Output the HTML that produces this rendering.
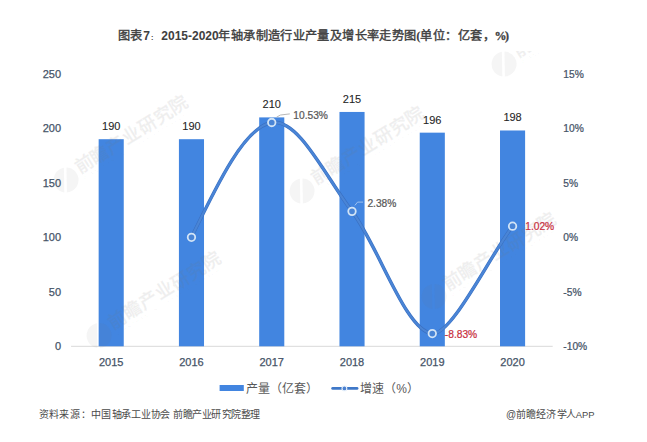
<!DOCTYPE html>
<html lang="zh-CN"><head><meta charset="utf-8"><style>
html,body{margin:0;padding:0;background:#fff;width:647px;height:442px;overflow:hidden;position:relative;font-family:"Liberation Sans", sans-serif;}
</style></head><body>
<svg width="647" height="442" viewBox="0 0 647 442" style="position:absolute;left:0;top:0">
<line x1="71.06" y1="346.30" x2="552.70" y2="346.30" stroke="#D9D9D9" stroke-width="1"/>
<text x="61.10" y="350.40" font-family='"Liberation Sans", sans-serif' font-size="11" fill="#455367" stroke="#455367" stroke-width="0.25" text-anchor="end" font-weight="normal">0</text>
<text x="61.10" y="295.90" font-family='"Liberation Sans", sans-serif' font-size="11" fill="#455367" stroke="#455367" stroke-width="0.25" text-anchor="end" font-weight="normal">50</text>
<text x="61.10" y="241.40" font-family='"Liberation Sans", sans-serif' font-size="11" fill="#455367" stroke="#455367" stroke-width="0.25" text-anchor="end" font-weight="normal">100</text>
<text x="61.10" y="186.90" font-family='"Liberation Sans", sans-serif' font-size="11" fill="#455367" stroke="#455367" stroke-width="0.25" text-anchor="end" font-weight="normal">150</text>
<text x="61.10" y="132.40" font-family='"Liberation Sans", sans-serif' font-size="11" fill="#455367" stroke="#455367" stroke-width="0.25" text-anchor="end" font-weight="normal">200</text>
<text x="61.10" y="77.90" font-family='"Liberation Sans", sans-serif' font-size="11" fill="#455367" stroke="#455367" stroke-width="0.25" text-anchor="end" font-weight="normal">250</text>
<g transform="translate(563.30,77.50) scale(0.93,1)"><text x="0" y="0" font-family='"Liberation Sans", sans-serif' font-size="11" fill="#455367" stroke="#455367" stroke-width="0.25" text-anchor="start" font-weight="normal">15%</text></g>
<g transform="translate(563.30,132.00) scale(0.93,1)"><text x="0" y="0" font-family='"Liberation Sans", sans-serif' font-size="11" fill="#455367" stroke="#455367" stroke-width="0.25" text-anchor="start" font-weight="normal">10%</text></g>
<g transform="translate(563.30,186.50) scale(0.93,1)"><text x="0" y="0" font-family='"Liberation Sans", sans-serif' font-size="11" fill="#455367" stroke="#455367" stroke-width="0.25" text-anchor="start" font-weight="normal">5%</text></g>
<g transform="translate(563.30,241.00) scale(0.93,1)"><text x="0" y="0" font-family='"Liberation Sans", sans-serif' font-size="11" fill="#455367" stroke="#455367" stroke-width="0.25" text-anchor="start" font-weight="normal">0%</text></g>
<g transform="translate(563.30,295.50) scale(0.93,1)"><text x="0" y="0" font-family='"Liberation Sans", sans-serif' font-size="11" fill="#455367" stroke="#455367" stroke-width="0.25" text-anchor="start" font-weight="normal">-5%</text></g>
<g transform="translate(563.30,350.00) scale(0.93,1)"><text x="0" y="0" font-family='"Liberation Sans", sans-serif' font-size="11" fill="#455367" stroke="#455367" stroke-width="0.25" text-anchor="start" font-weight="normal">-10%</text></g>
<rect x="98.65" y="139.20" width="25.1" height="207.10" fill="#4285E0"/>
<text x="111.20" y="130.20" font-family='"Liberation Sans", sans-serif' font-size="11" fill="#262626" stroke="#262626" stroke-width="0.1" text-anchor="middle" font-weight="normal">190</text>
<text x="111.20" y="366.00" font-family='"Liberation Sans", sans-serif' font-size="11" fill="#455367" stroke="#455367" stroke-width="0.25" text-anchor="middle" font-weight="normal">2015</text>
<rect x="178.92" y="139.20" width="25.1" height="207.10" fill="#4285E0"/>
<text x="191.47" y="130.20" font-family='"Liberation Sans", sans-serif' font-size="11" fill="#262626" stroke="#262626" stroke-width="0.1" text-anchor="middle" font-weight="normal">190</text>
<text x="191.47" y="366.00" font-family='"Liberation Sans", sans-serif' font-size="11" fill="#455367" stroke="#455367" stroke-width="0.25" text-anchor="middle" font-weight="normal">2016</text>
<rect x="259.19" y="117.40" width="25.1" height="228.90" fill="#4285E0"/>
<text x="271.74" y="108.40" font-family='"Liberation Sans", sans-serif' font-size="11" fill="#262626" stroke="#262626" stroke-width="0.1" text-anchor="middle" font-weight="normal">210</text>
<text x="271.74" y="366.00" font-family='"Liberation Sans", sans-serif' font-size="11" fill="#455367" stroke="#455367" stroke-width="0.25" text-anchor="middle" font-weight="normal">2017</text>
<rect x="339.47" y="111.95" width="25.1" height="234.35" fill="#4285E0"/>
<text x="352.02" y="102.95" font-family='"Liberation Sans", sans-serif' font-size="11" fill="#262626" stroke="#262626" stroke-width="0.1" text-anchor="middle" font-weight="normal">215</text>
<text x="352.02" y="366.00" font-family='"Liberation Sans", sans-serif' font-size="11" fill="#455367" stroke="#455367" stroke-width="0.25" text-anchor="middle" font-weight="normal">2018</text>
<rect x="419.74" y="132.66" width="25.1" height="213.64" fill="#4285E0"/>
<text x="432.29" y="123.66" font-family='"Liberation Sans", sans-serif' font-size="11" fill="#262626" stroke="#262626" stroke-width="0.1" text-anchor="middle" font-weight="normal">196</text>
<text x="432.29" y="366.00" font-family='"Liberation Sans", sans-serif' font-size="11" fill="#455367" stroke="#455367" stroke-width="0.25" text-anchor="middle" font-weight="normal">2019</text>
<rect x="500.01" y="130.48" width="25.1" height="215.82" fill="#4285E0"/>
<text x="512.56" y="121.48" font-family='"Liberation Sans", sans-serif' font-size="11" fill="#262626" stroke="#262626" stroke-width="0.1" text-anchor="middle" font-weight="normal">198</text>
<text x="512.56" y="366.00" font-family='"Liberation Sans", sans-serif' font-size="11" fill="#455367" stroke="#455367" stroke-width="0.25" text-anchor="middle" font-weight="normal">2020</text>
<defs><clipPath id="wc"><rect x="0" y="51" width="647" height="300"/></clipPath><mask id="lm" maskUnits="userSpaceOnUse" x="-40" y="-30" width="60" height="60"><rect x="-40" y="-30" width="60" height="60" fill="#fff"/><line x1="-4" y1="-18" x2="-22" y2="12" stroke="#000" stroke-width="2.6"/></mask></defs>
<g clip-path="url(#wc)">
<g transform="translate(78,175.5) rotate(-32)"><circle cx="-12.5" cy="-2.5" r="12.5" fill="rgba(120,120,120,0.07)" mask="url(#lm)"/><text x="2" y="0" font-family='"Liberation Sans", sans-serif' font-size="18" letter-spacing="0.6" fill="rgba(120,120,120,0.07)" stroke="rgba(120,120,120,0.07)" stroke-width="1.3">前瞻产业研究院</text><text x="3" y="7" font-family='"Liberation Sans", sans-serif' font-size="4" letter-spacing="2.2" fill="rgba(120,120,120,0.07)">QIANZHAN INDUSTRY RESEARCH</text></g>
<g transform="translate(111,331) rotate(-32)"><circle cx="-12.5" cy="-2.5" r="12.5" fill="rgba(120,120,120,0.07)" mask="url(#lm)"/><text x="2" y="0" font-family='"Liberation Sans", sans-serif' font-size="18" letter-spacing="0.6" fill="rgba(120,120,120,0.07)" stroke="rgba(120,120,120,0.07)" stroke-width="1.3">前瞻产业研究院</text><text x="3" y="7" font-family='"Liberation Sans", sans-serif' font-size="4" letter-spacing="2.2" fill="rgba(120,120,120,0.07)">QIANZHAN INDUSTRY RESEARCH</text></g>
<g transform="translate(314,186.5) rotate(-32)"><circle cx="-12.5" cy="-2.5" r="12.5" fill="rgba(120,120,120,0.07)" mask="url(#lm)"/><text x="2" y="0" font-family='"Liberation Sans", sans-serif' font-size="18" letter-spacing="0.6" fill="rgba(120,120,120,0.07)" stroke="rgba(120,120,120,0.07)" stroke-width="1.3">前瞻产业研究院</text><text x="3" y="7" font-family='"Liberation Sans", sans-serif' font-size="4" letter-spacing="2.2" fill="rgba(120,120,120,0.07)">QIANZHAN INDUSTRY RESEARCH</text></g>
<g transform="translate(446,292) rotate(-32)"><circle cx="-12.5" cy="-2.5" r="12.5" fill="rgba(120,120,120,0.07)" mask="url(#lm)"/><text x="2" y="0" font-family='"Liberation Sans", sans-serif' font-size="18" letter-spacing="0.6" fill="rgba(120,120,120,0.07)" stroke="rgba(120,120,120,0.07)" stroke-width="1.3">前瞻产业研究院</text><text x="3" y="7" font-family='"Liberation Sans", sans-serif' font-size="4" letter-spacing="2.2" fill="rgba(120,120,120,0.07)">QIANZHAN INDUSTRY RESEARCH</text></g>
<g transform="translate(516,59.5) rotate(-32)"><circle cx="-12.5" cy="-2.5" r="12.5" fill="rgba(120,120,120,0.07)" mask="url(#lm)"/><text x="2" y="0" font-family='"Liberation Sans", sans-serif' font-size="18" letter-spacing="0.6" fill="rgba(120,120,120,0.07)" stroke="rgba(120,120,120,0.07)" stroke-width="1.3">前瞻产业研究院</text><text x="3" y="7" font-family='"Liberation Sans", sans-serif' font-size="4" letter-spacing="2.2" fill="rgba(120,120,120,0.07)">QIANZHAN INDUSTRY RESEARCH</text></g>
</g>
<path d="M191.47,237.30 C218.23,182.07 244.99,126.85 271.74,122.52 C298.50,118.20 325.26,176.19 352.02,211.36 C378.77,246.53 405.53,331.08 432.29,333.55 C451.56,335.33 488.48,258.39 512.56,226.18" fill="none" stroke="#3A70C2" stroke-width="3.4" stroke-linecap="round"/>
<path d="M191.47,237.30 C218.23,182.07 244.99,126.85 271.74,122.52 C298.50,118.20 325.26,176.19 352.02,211.36 C378.77,246.53 405.53,331.08 432.29,333.55 C451.56,335.33 488.48,258.39 512.56,226.18" fill="none" stroke="#4A85D6" stroke-width="2.2" stroke-linecap="round"/>
<circle cx="191.47" cy="237.30" r="3.75" fill="#4A85D6" stroke="#D2E4F6" stroke-width="1.8"/>
<circle cx="271.74" cy="122.52" r="3.75" fill="#4A85D6" stroke="#D2E4F6" stroke-width="1.8"/>
<circle cx="352.02" cy="211.36" r="3.75" fill="#4A85D6" stroke="#D2E4F6" stroke-width="1.8"/>
<circle cx="432.29" cy="333.55" r="3.75" fill="#4A85D6" stroke="#D2E4F6" stroke-width="1.8"/>
<circle cx="512.56" cy="226.18" r="3.75" fill="#4A85D6" stroke="#D2E4F6" stroke-width="1.8"/>
<polyline points="276.5,117.2 280.5,115.0 289.8,113.9" fill="none" stroke="#B0B0B0" stroke-width="0.9"/>
<g transform="translate(293.30,119.00) scale(0.93,1)"><text x="0" y="0" font-family='"Liberation Sans", sans-serif' font-size="11" fill="#595959" stroke="#595959" stroke-width="0.25" text-anchor="start" font-weight="normal">10.53%</text></g>
<polyline points="354.9,205.4 357.6,202.1 363.1,202.1" fill="none" stroke="#A8C8F0" stroke-width="0.9"/>
<g transform="translate(367.40,206.70) scale(0.93,1)"><text x="0" y="0" font-family='"Liberation Sans", sans-serif' font-size="11" fill="#595959" stroke="#595959" stroke-width="0.25" text-anchor="start" font-weight="normal">2.38%</text></g>
<g transform="translate(525.20,230.00) scale(0.93,1)"><text x="0" y="0" font-family='"Liberation Sans", sans-serif' font-size="11" fill="#C8303F" stroke="#C8303F" stroke-width="0.25" text-anchor="start" font-weight="normal">1.02%</text></g>
<g transform="translate(444.80,337.70) scale(0.93,1)"><text x="0" y="0" font-family='"Liberation Sans", sans-serif' font-size="11" fill="#C8303F" stroke="#C8303F" stroke-width="0.25" text-anchor="start" font-weight="normal">-8.83%</text></g>
<rect x="219.6" y="385" width="24.2" height="6" fill="#4285E0"/>
<line x1="332.7" y1="388.4" x2="357" y2="388.4" stroke="#3F78C8" stroke-width="2.9" stroke-linecap="round"/>
<circle cx="344.4" cy="388.4" r="2.4" fill="#4A80D0" stroke="#E8F1FB" stroke-width="1.1"/>
<text x="245.5" y="392.6" font-family='"Liberation Sans", sans-serif' font-size="12" fill="#595959">产量（亿套）</text>
<text x="360.2" y="392.5" font-family='"Liberation Sans", sans-serif' font-size="12" fill="#595959">增速（%）</text>
<text x="117.5 129.6" y="39.8" font-family='"Liberation Sans", sans-serif' font-size="12.2" font-weight="400" fill="#404040" stroke="#404040" stroke-width="0.4">图表</text>
<text x="143.3" y="39.8" font-family='"Liberation Sans", sans-serif' font-size="12" font-weight="bold" fill="#404040">7</text>
<text x="151.0" y="39.6" font-family='"Liberation Sans", sans-serif' font-size="7.2" font-weight="bold" fill="#404040">:</text>
<text x="161.3" y="39.8" font-family='"Liberation Sans", sans-serif' font-size="12" font-weight="bold" fill="#404040">2015-2020</text>
<text x="218.3 230.7 243.1 255.5 267.9 280.2 292.6 305.0 317.4 329.8 342.2 354.6 367.0 379.4 391.8 404.2" y="39.8" font-family='"Liberation Sans", sans-serif' font-size="12.2" font-weight="400" fill="#404040" stroke="#404040" stroke-width="0.4">年轴承制造行业产量及增长率走势图</text>
<text x="416.3" y="39.8" font-family='"Liberation Serif", serif' font-size="13" font-weight="bold" fill="#404040">(</text>
<text x="420.0 432.6 445.0 458.0 470.4 482.6" y="39.8" font-family='"Liberation Sans", sans-serif' font-size="12.2" font-weight="400" fill="#404040" stroke="#404040" stroke-width="0.4">单位：亿套，</text>
<text x="494.6 505.0" y="39.8" font-family='"Liberation Serif", serif' font-size="12" font-weight="bold" stroke="#404040" stroke-width="0.3" fill="#404040">%)</text>
<text x="38.7 49.4 59.2 69.8 80.6 91.3 101.4 111.6 121.3 130.6 140.8 151.0 160.3" y="417.6" font-family='"Liberation Sans", sans-serif' font-size="10" fill="#4A4A4A">资料来源：中国轴承工业协会</text>
<text x="172.8 182.6 192.3 202.1 211.4 221.5 231.3 240.6 250.3" y="417.6" font-family='"Liberation Sans", sans-serif' font-size="10" fill="#4A4A4A">前瞻产业研究院整理</text>
<text x="506" y="417.8" font-family='"Liberation Sans", sans-serif' font-size="10" fill="#4A4A4A">@</text>
<text x="515.7 526.2 536.2 546.4 556.8 566.4" y="417.6" font-family='"Liberation Sans", sans-serif' font-size="10" fill="#4A4A4A">前瞻经济学人</text>
<text x="575.8" y="418.2" font-family='"Liberation Sans", sans-serif' font-size="9.4" fill="#4A4A4A">APP</text>
</svg>
</body></html>
